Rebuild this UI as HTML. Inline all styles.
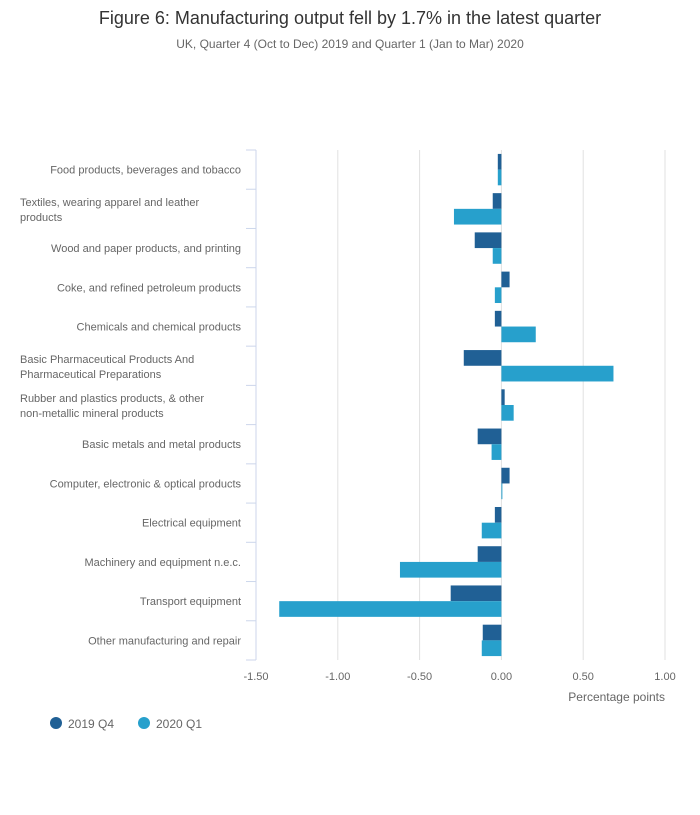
<!DOCTYPE html>
<html><head><meta charset="utf-8"><style>
body{margin:0;background:#fff;font-family:"Liberation Sans",sans-serif;}
svg text{font-family:"Liberation Sans",sans-serif;}
</style></head><body>
<svg width="700" height="810" xmlns="http://www.w3.org/2000/svg">
<text x="350" y="24" text-anchor="middle" font-size="18" fill="#333">Figure 6: Manufacturing output fell by 1.7% in the latest quarter</text>
<text x="350" y="48" text-anchor="middle" font-size="12" fill="#666">UK, Quarter 4 (Oct to Dec) 2019 and Quarter 1 (Jan to Mar) 2020</text>
<g id="grid"></g><g id="bars"></g><g id="ylab"></g><g id="xlab"></g>
<text x="665" y="701" text-anchor="end" font-size="12" fill="#666">Percentage points</text>
<g>
<circle cx="56" cy="723" r="6" fill="#206095"/>
<text x="68" y="728" font-size="12" fill="#666">2019 Q4</text>
<circle cx="144" cy="723" r="6" fill="#27a0cc"/>
<text x="156" y="728" font-size="12" fill="#666">2020 Q1</text>
</g>
</svg>
<script>
const categories=[["Food products, beverages and tobacco"],["Textiles, wearing apparel and leather","products"],["Wood and paper products, and printing"],["Coke, and refined petroleum products"],["Chemicals and chemical products"],["Basic Pharmaceutical Products And","Pharmaceutical Preparations"],["Rubber and plastics products, & other","non-metallic mineral products"],["Basic metals and metal products"],["Computer, electronic & optical products"],["Electrical equipment"],["Machinery and equipment n.e.c."],["Transport equipment"],["Other manufacturing and repair"]];
const q4=[-0.022,-0.053,-0.163,0.05,-0.04,-0.23,0.02,-0.145,0.05,-0.04,-0.145,-0.31,-0.114];
const q1=[-0.022,-0.29,-0.053,-0.04,0.21,0.685,0.075,-0.06,0.006,-0.12,-0.62,-1.358,-0.12];
const ticks=[-1.5,-1,-0.5,0,0.5,1];
const tickLabels=["-1.50","-1.00","-0.50","0.00","0.50","1.00"];
const NS="http://www.w3.org/2000/svg";
const x0=256,x1=665,vmin=-1.5,vmax=1,yTop=150,yBot=660;
const band=(yBot-yTop)/categories.length;
const X=v=>x0+(v-vmin)/(vmax-vmin)*(x1-x0);
function mk(t,a,p){const e=document.createElementNS(NS,t);for(const k in a)e.setAttribute(k,a[k]);p.appendChild(e);return e;}
const grid=document.getElementById('grid'),bars=document.getElementById('bars'),ylab=document.getElementById('ylab'),xlab=document.getElementById('xlab');
ticks.forEach((t,i)=>{
 if(i>0){const g=mk('line',{x1:X(t),x2:X(t),y1:yTop,y2:yBot,stroke:'#e0e0e0','stroke-width':1},grid);
 
 }
 const tx=mk('text',{x:X(t),y:yBot+20,'text-anchor':'middle','font-size':11,fill:'#666'},xlab);
 tx.textContent=tickLabels[i];
 
 
});
const ax=mk('line',{x1:x0,x2:x0,y1:yTop,y2:yBot,stroke:'#ccd6eb','stroke-width':1},grid);


for(let i=0;i<=categories.length;i++){
 const y=yTop+i*band;
 const tk=mk('line',{x1:x0-10,x2:x0,y1:y,y2:y,stroke:'#ccd6eb','stroke-width':1},grid);
 
 
}
const bh=15.7;
categories.forEach((c,i)=>{
 const cy=yTop+i*band+band/2;
 [[q4[i],'#206095',cy-bh],[q1[i],'#27a0cc',cy]].forEach((s,j)=>{
  const v=s[0],xa=Math.min(X(0),X(v)),w=Math.abs(X(v)-X(0));
  const r=mk('rect',{x:xa,y:s[2],width:Math.max(w,0.8),height:bh,fill:s[1]},bars);
  
  
 });
 const t=mk('text',{x:241,'text-anchor':c.length>1?'start':'end','font-size':11,fill:'#666'},ylab);
 
 
 if(c.length==1){t.setAttribute('y',cy+4);t.textContent=c[0];}
 else{t.setAttribute('x',20);c.forEach((l,k)=>{const ts=mk('tspan',{x:20,y:cy-3+k*15},t);ts.textContent=l;});}
});
</script>
</body></html>
